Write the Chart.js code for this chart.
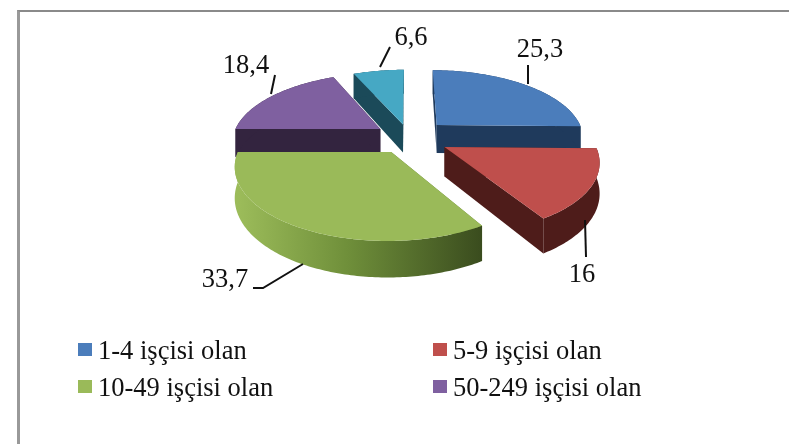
<!DOCTYPE html>
<html>
<head>
<meta charset="utf-8">
<script src="https://cdn.jsdelivr.net/npm/chart.js@4/dist/chart.umd.min.js"></script>
<style>
    html, body { margin: 0; background: #fff; }
    #wrap { position: relative; width: 789px; height: 444px; overflow: hidden; }
    #frame { position: absolute; left: 17px; top: 10px; right: 0; bottom: -5px; border-left: 3px solid #999; border-top: 2px solid #8a8a8a; }
    canvas { position: absolute; left: 0; top: 0; filter: blur(0.5px); }
</style>
</head>
<body>
<div id="wrap">
    <div id="frame"></div>
    <canvas id="myChart" width="789" height="444"></canvas>
</div>
<script>
// values as printed on the slices
var categories = ["1-4 işçisi olan", "5-9 işçisi olan", "10-49 işçisi olan", "50-249 işçisi olan", "250+ işçisi olan"];
var shares = [25.3, 16, 33.7, 18.4, 6.6];

var sliceColors = ['#4b7dbb', '#bf4f4c', '#9aba59', '#7f60a0', '#46a8c4'];
var wallColors = ['#1f3a5c', '#4e1c1a', '#5e7a30', '#33243f', '#1b4a59'];
var explode = [40, 40, 35, 35, 30];

// the old 3d look: tilt the pie plane and push it away from the viewer
var TILT = 0.46, DEPTH = 865, THICK = 29, RADIUS = 148;

function project(o, u, v, z) {
    var s = 1 / (1 - v / DEPTH);
    return { x: o.x + u * s, y: o.y + (TILT * v + z) * s };
}

var pie3d = {
    id: 'pie3d',
    beforeDatasetDraw: function (chart) {
        var ctx = chart.ctx;
        var arcs = chart.getDatasetMeta(0).data;
        var order = arcs.map(function (a, i) { return i; });
        var dirY = function (i) {
            var a = arcs[i];
            return a.options.offset * Math.sin((a.startAngle + a.endAngle) / 2);
        };
        order.sort(function (p, q) { return dirY(p) - dirY(q); });

        order.forEach(function (i) {
            var a = arcs[i];
            var mid = (a.startAngle + a.endAngle) / 2;
            var ex = a.options.offset * Math.cos(mid);
            var ey = a.options.offset * Math.sin(mid);
            var rim = function (t, z) {
                return project(a, ex + RADIUS * Math.cos(t), ey + RADIUS * Math.sin(t), z);
            };
            var center = function (z) { return project(a, ex, ey, z); };
            var steps = Math.ceil((a.endAngle - a.startAngle) * 60);
            var angle = function (n) { return a.startAngle + (a.endAngle - a.startAngle) * n / steps; };
            var n;

            // the two cut walls
            [a.startAngle, a.endAngle].forEach(function (t) {
                var c0 = center(0), c1 = center(THICK), r0 = rim(t, 0), r1 = rim(t, THICK);
                ctx.beginPath();
                ctx.moveTo(c0.x, c0.y);
                ctx.lineTo(r0.x, r0.y);
                ctx.lineTo(r1.x, r1.y);
                ctx.lineTo(c1.x, c1.y);
                ctx.closePath();
                ctx.fillStyle = wallColors[i];
                ctx.fill();
            });

            // outer wall
            ctx.beginPath();
            for (n = 0; n <= steps; n++) {
                var p = rim(angle(n), 0);
                ctx[n ? 'lineTo' : 'moveTo'](p.x, p.y);
            }
            for (n = steps; n >= 0; n--) {
                var q = rim(angle(n), THICK);
                ctx.lineTo(q.x, q.y);
            }
            ctx.closePath();
            if (i === 2) {
                var grad = ctx.createLinearGradient(238, 0, 482, 0);
                grad.addColorStop(0, '#9cbc5a');
                grad.addColorStop(0.45, '#6f8f3a');
                grad.addColorStop(1, '#3a4c1e');
                ctx.fillStyle = grad;
            } else {
                ctx.fillStyle = wallColors[i];
            }
            ctx.fill();

            // top face
            var c = center(0);
            ctx.beginPath();
            ctx.moveTo(c.x, c.y);
            for (n = 0; n <= steps; n++) {
                var r = rim(angle(n), 0);
                ctx.lineTo(r.x, r.y);
            }
            ctx.closePath();
            ctx.fillStyle = a.options.backgroundColor;
            ctx.fill();
        });
        return false;
    },
    afterDraw: function (chart) {
        var ctx = chart.ctx;
        var opts = chart.options.plugins.pie3d;
        ctx.save();

        // leader lines
        ctx.strokeStyle = '#111';
        ctx.lineWidth = 2;
        opts.leaders.forEach(function (pts) {
            ctx.beginPath();
            pts.forEach(function (p, n) { ctx[n ? 'lineTo' : 'moveTo'](p[0], p[1]); });
            ctx.stroke();
        });

        // value labels
        ctx.fillStyle = '#111';
        ctx.font = '26.5px "Liberation Serif"';
        ctx.textAlign = 'center';
        ctx.textBaseline = 'alphabetic';
        chart.data.datasets[0].data.forEach(function (v, i) {
            var p = opts.labelAt[i];
            ctx.fillText(String(v).replace('.', ','), p[0], p[1]);
        });

        // legend, two columns, the last category has no entry in the picture
        ctx.textAlign = 'left';
        opts.legendAt.forEach(function (p, i) {
            ctx.fillStyle = sliceColors[i];
            ctx.fillRect(p[0], p[1], 14, 13);
            ctx.fillStyle = '#111';
            ctx.fillText(chart.data.labels[i], p[0] + 20, p[1] + 16);
        });
        ctx.restore();
    }
};

function createChart() {
    var ctx = document.getElementById('myChart').getContext('2d');
    var chart = new Chart(ctx, {
        type: 'pie',
        data: {
            labels: categories,
            datasets: [{
                data: shares,
                backgroundColor: sliceColors,
                offset: explode,
                borderWidth: 0
            }]
        },
        options: {
            responsive: false,
            animation: false,
            layout: { padding: { left: 29, bottom: 169 } },
            plugins: {
                legend: { display: false },
                tooltip: { enabled: false },
                pie3d: {
                    leaders: [
                        [[528, 65], [528, 84]],
                        [[585, 220], [586, 257]],
                        [[303, 264], [263, 288], [253, 288]],
                        [[271, 94], [275, 75]],
                        [[380, 67], [390, 47]]
                    ],
                    labelAt: [[540, 57], [582, 282], [225, 287], [246, 73], [411, 45]],
                    legendAt: [[78, 343], [433, 343], [78, 380], [433, 380]]
                }
            }
        },
        plugins: [pie3d]
    });
}

createChart();
</script>
</body>
</html>
